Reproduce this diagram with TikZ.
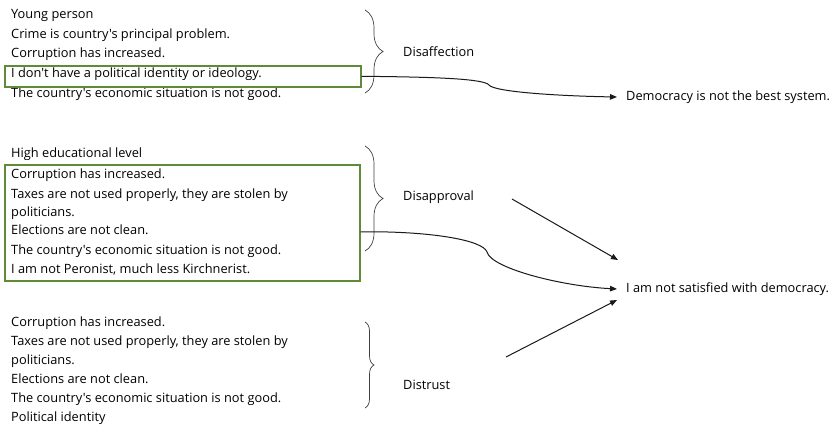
\documentclass[tikz,border=0pt]{standalone}
\usepackage{fontspec}
\setmainfont{Open Sans}[Ligatures=TeXOff]
\usetikzlibrary{arrows.meta,positioning,decorations.pathreplacing}

\definecolor{boxgreen}{HTML}{5E8A3A}

\begin{document}
\begin{tikzpicture}[
			x=1pt, y=-1pt,
			node distance=7pt,
			txt/.style={anchor=north west, inner sep=0pt, text height=9pt, text depth=3pt, font=\fontsize{12.8}{14}\selectfont},
			lbl/.style={anchor=west, inner sep=0pt, font=\fontsize{12.8}{14}\selectfont},
			outcome/.style={anchor=west, inner xsep=9pt, inner ysep=4pt, font=\fontsize{12.8}{14}\selectfont},
			hilite/.style={draw=boxgreen, line width=1.6pt, anchor=north west, inner sep=0pt},
			grp/.style={draw=black!75, line width=0.7pt, decorate, decoration={brace, amplitude=18pt}},
			arr/.style={draw=black!90, line width=1pt, -{Triangle[length=7pt,width=5.5pt]}}
		]
		\useasboundingbox (0,0) rectangle (836,428);

		% first group
		\node[txt] (young) at (11,9) {Young person};
		\node[txt, below=7.5pt of young.south west, anchor=north west] (crime) {Crime is country's principal problem.};
		\node[txt, below=7.5pt of crime.south west, anchor=north west] (corrA) {Corruption has increased.};
		\node[txt, below=7.5pt of corrA.south west, anchor=north west] (ident) {I don't have a political identity or ideology.};
		\node[txt, below=7.5pt of ident.south west, anchor=north west] (econA) {The country's economic situation is not good.};
		\node[hilite, minimum width=356pt, minimum height=21pt] (boxA) at (4,65) {};
		\draw[grp] (365,10) -- (365,93);
		\node[lbl] (disaff) at (403,52) {Disaffection};
		\node[outcome] (best) at (617,97) {Democracy is not the best system.};

		% second group
		\node[txt] (edu) at (11,148) {High educational level};
		\node[txt, below=9pt of edu.south west, anchor=north west] (corrB) {Corruption has increased.};
		\node[txt, below=7pt of corrB.south west, anchor=north west] (taxB) {Taxes are not used properly, they are stolen by};
		\node[txt, below=6pt of taxB.south west, anchor=north west] (polB) {politicians.};
		\node[txt, below=6pt of polB.south west, anchor=north west] (elecB) {Elections are not clean.};
		\node[txt, below=7pt of elecB.south west, anchor=north west] (econB) {The country's economic situation is not good.};
		\node[txt, below=7pt of econB.south west, anchor=north west] (peron) {I am not Peronist, much less Kirchnerist.};
		\node[hilite, minimum width=355pt, minimum height=116pt] (boxB) at (4,164) {};
		\draw[grp] (365,146) -- (365,251);
		\node[lbl] (disapp) at (403,197) {Disapproval};
		\node[outcome] (satis) at (617,289) {I am not satisfied with democracy.};

		% third group
		\node[txt] (corrC) at (11,317) {Corruption has increased.};
		\node[txt, below=7pt of corrC.south west, anchor=north west] (taxC) {Taxes are not used properly, they are stolen by};
		\node[txt, below=6pt of taxC.south west, anchor=north west] (polC) {politicians.};
		\node[txt, below=7pt of polC.south west, anchor=north west] (elecC) {Elections are not clean.};
		\node[txt, below=7pt of elecC.south west, anchor=north west] (econC) {The country's economic situation is not good.};
		\node[txt, below=6pt of econC.south west, anchor=north west] (polid) {Political identity};
		\draw[grp, decoration={amplitude=9pt}] (365,322) -- (365,408);
		\node[lbl] (distr) at (403,385) {Distrust};

		% free ends of the straight arrows
		\coordinate (dpS) at (512,199);
		\coordinate (dpE) at (618,260);
		\coordinate (dtS) at (506,357);
		\coordinate (dtE) at (617,300);

		\draw[arr] (boxA.east) .. controls (440,77) and (484,79) .. (489,85)
			.. controls (494,92) and (560,96) .. (best.west);
		\draw[arr] (boxB.east |- elecB) .. controls (430,231) and (483,240) .. (487,252)
			.. controls (491,268) and (560,286) .. (satis.west);
		\draw[arr] (dpS) -- (dpE);
		\draw[arr] (dtS) -- (dtE);
	\end{tikzpicture}
\end{document}
